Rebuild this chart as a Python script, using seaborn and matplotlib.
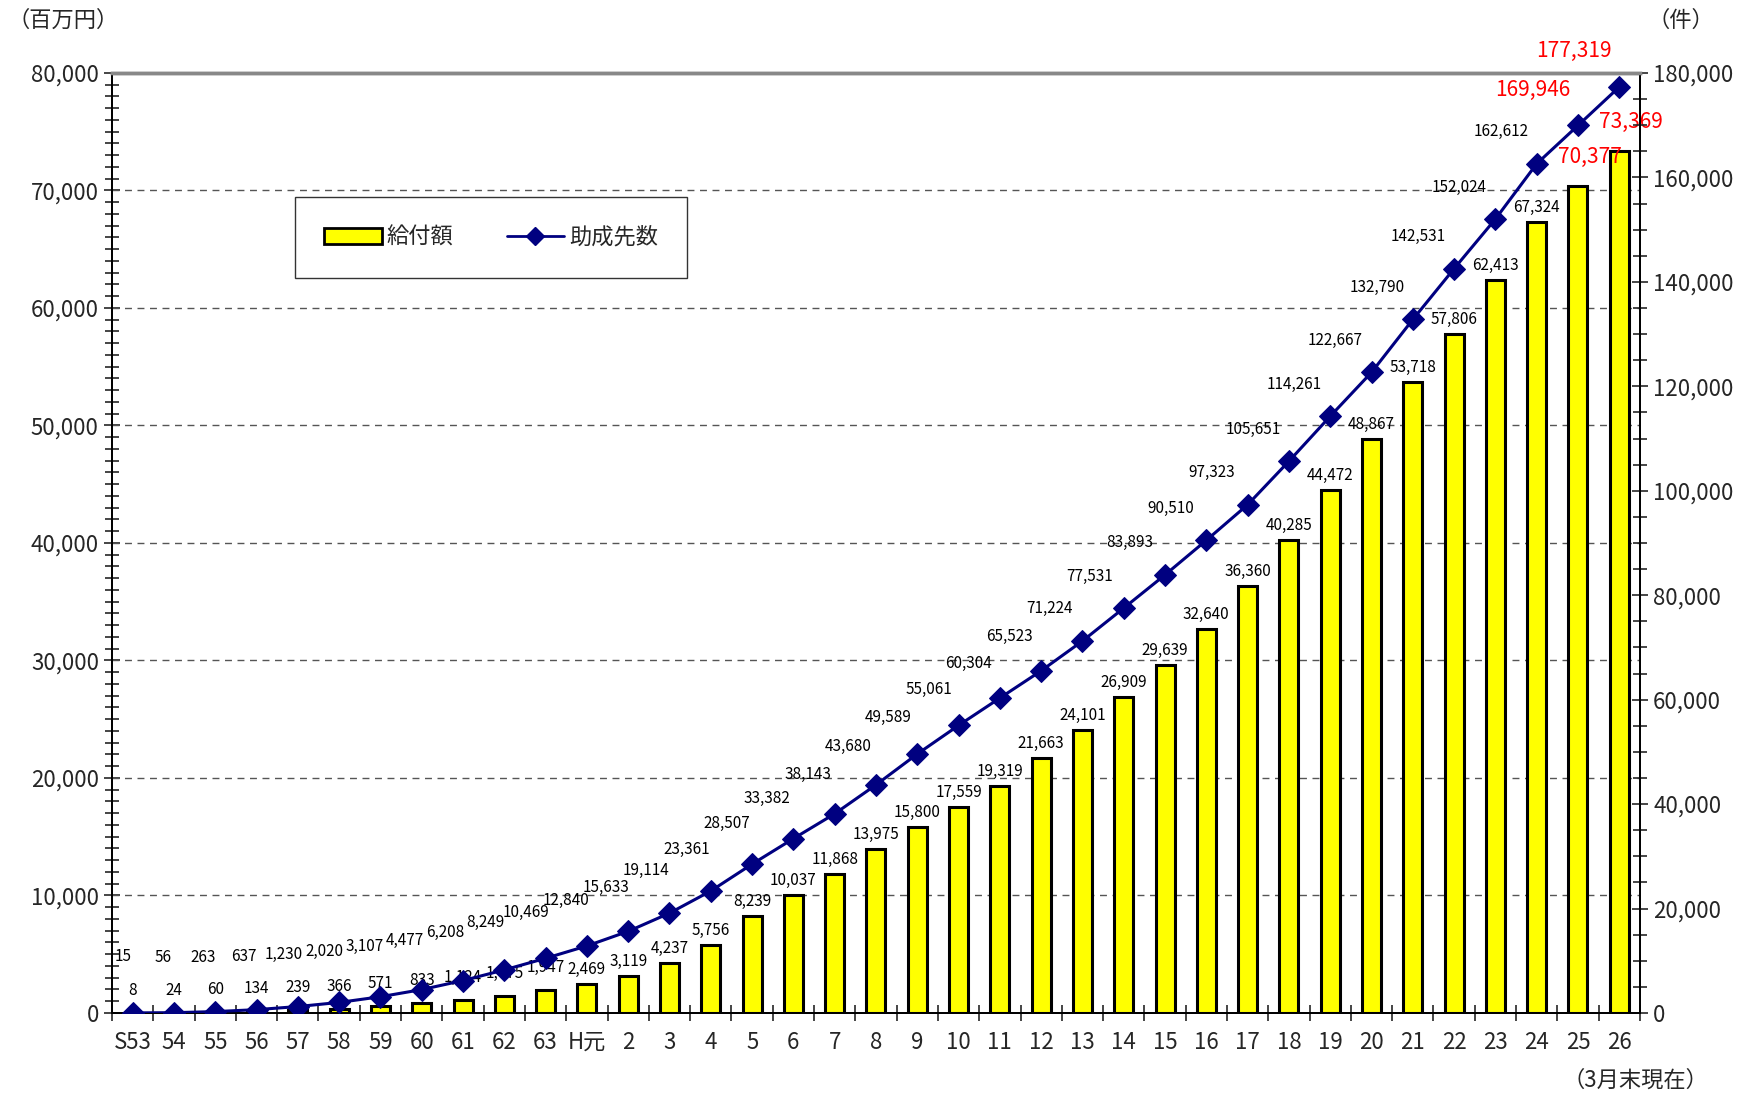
import matplotlib
matplotlib.use("Agg")
import matplotlib.pyplot as plt
from matplotlib.ticker import MultipleLocator, FuncFormatter
from matplotlib.patches import Patch
from matplotlib.lines import Line2D
import numpy as np
import pandas as pd
import seaborn as sns

# fiscal years (Showa 53 .. Heisei 26)
years = ["S53", "54", "55", "56", "57", "58", "59", "60", "61", "62", "63", "H元",
         "2", "3", "4", "5", "6", "7", "8", "9", "10", "11", "12", "13", "14",
         "15", "16", "17", "18", "19", "20", "21", "22", "23", "24", "25", "26"]

# 給付額 (百万円)
payments = [8, 24, 60, 134, 239, 366, 571, 833, 1124, 1475, 1947, 2469,
            3119, 4237, 5756, 8239, 10037, 11868, 13975, 15800, 17559, 19319,
            21663, 24101, 26909, 29639, 32640, 36360, 40285, 44472, 48867,
            53718, 57806, 62413, 67324, 70377, 73369]

# 助成先数 (件)
recipients = [15, 56, 263, 637, 1230, 2020, 3107, 4477, 6208, 8249, 10469,
              12840, 15633, 19114, 23361, 28507, 33382, 38143, 43680, 49589,
              55061, 60304, 65523, 71224, 77531, 83893, 90510, 97323, 105651,
              114261, 122667, 132790, 142531, 152024, 162612, 169946, 177319]

df = pd.DataFrame({"year": years, "pay": payments, "rec": recipients,
                   "pos": np.arange(len(years))})

sns.set_style("ticks")
plt.rcParams["font.family"] = ["Noto Sans CJK JP", "DejaVu Sans"]

BAR = "#FFFF00"
LINE = "#000080"

fig = plt.figure(figsize=(17.53, 10.97), dpi=100)
ax = fig.add_axes([0.0639, 0.0766, 0.8716, 0.8569])

sns.barplot(data=df, x="year", y="pay", ax=ax, color=BAR, saturation=1,
            edgecolor="black", linewidth=2.2, width=0.46, zorder=3)
ax.set_xlim(-0.5, len(years) - 0.5)
ax.set_ylim(0, 80000)
ax.yaxis.set_major_locator(MultipleLocator(10000))
ax.yaxis.set_minor_locator(MultipleLocator(1000))
ax.yaxis.set_major_formatter(FuncFormatter(lambda v, p: f"{int(v):,}"))
ax.set_xlabel("")
ax.set_ylabel("")
for y in range(10000, 80000, 10000):
    ax.axhline(y, color="#555555", lw=1.0, ls=(0, (5, 4)), zorder=1)

ax.set_xticks(np.arange(len(years)))
ax.set_xticklabels(years)
ax.set_xticks(np.arange(-0.5, len(years)), minor=True)
ax.tick_params(axis="x", which="major", length=0, labelsize=16, pad=13)
ax.tick_params(axis="x", which="minor", direction="inout", length=12, width=1.2)
ax.tick_params(axis="y", which="major", direction="inout", length=12, width=1.2,
               labelsize=16)
ax.tick_params(axis="y", which="minor", direction="inout", length=10, width=1.2)

ax2 = ax.twinx()
sns.lineplot(data=df, x="pos", y="rec", ax=ax2, color=LINE, lw=2.2,
             marker="D", markersize=11, markeredgecolor=LINE, zorder=4)
ax2.set_ylim(0, 180000)
ax2.set_xlim(-0.5, len(years) - 0.5)
ax2.yaxis.set_major_locator(MultipleLocator(20000))
ax2.yaxis.set_minor_locator(MultipleLocator(5000))
ax2.yaxis.set_major_formatter(FuncFormatter(lambda v, p: f"{int(v):,}"))
ax2.tick_params(axis="y", which="major", direction="inout", length=12, width=1.2,
                labelsize=16)
ax2.tick_params(axis="y", which="minor", direction="inout", length=10, width=1.2)
ax2.set_xlabel("")
ax2.set_ylabel("")

for a in (ax, ax2):
    for s in ("left", "right", "bottom"):
        a.spines[s].set_color("black")
        a.spines[s].set_linewidth(1.3)
    a.spines["top"].set_color("#888888")
    a.spines["top"].set_linewidth(2.5)

n = len(years)
for i, (p, r) in enumerate(zip(payments, recipients)):
    red = i >= n - 2
    # bar value labels
    if red:
        ax.annotate(f"{p:,}", (i, p), xytext=(12, 18), textcoords="offset pixels",
                    ha="center", va="bottom", fontsize=15, color="red", zorder=6)
    else:
        ax.annotate(f"{p:,}", (i, p), xytext=(0, 14 if i < 11 else 6),
                    textcoords="offset pixels", ha="center", va="bottom",
                    fontsize=11, color="black", zorder=6)
    # line value labels, drifting from above to upper-left of the marker
    if red:
        dx, dy = -45, 36
    else:
        dx, dy = -10 - min(i, 26), 56 - min(i, 24)
    ax2.annotate(f"{r:,}", (i, r), xytext=(dx, dy), textcoords="offset pixels",
                 ha="center", va="center", fontsize=15 if red else 11,
                 color="red" if red else "black", zorder=6)

handles = [Patch(facecolor=BAR, edgecolor="black", linewidth=2),
           Line2D([0], [0], color=LINE, lw=2, marker="D", markersize=9)]
leg = ax2.legend(handles, ["給付額", "助成先数"], loc="upper left",
                 bbox_to_anchor=(0.12, 0.868), ncol=2, fontsize=16,
                 frameon=True, fancybox=False, edgecolor="black",
                 borderpad=1.3, handlelength=2.6, handletextpad=0.2,
                 columnspacing=2.4, borderaxespad=0)
leg.get_frame().set_linewidth(1.0)

fig.text(0.004, 0.992, "（百万円）", fontsize=16, ha="left", va="top")
fig.text(0.959, 0.992, "（件）", fontsize=16, ha="center", va="top")
fig.text(0.933, 0.015, "（3月末現在）", fontsize=16, ha="center", va="center")

fig.savefig("out.png", dpi=100)
